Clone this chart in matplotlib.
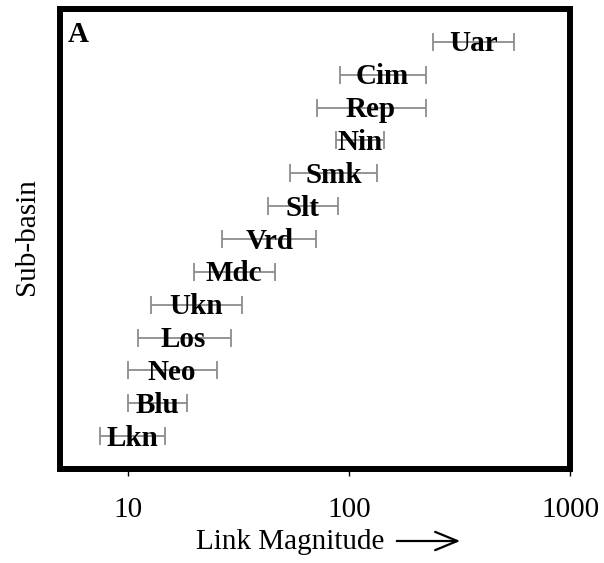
import numpy as np
import matplotlib
matplotlib.use("Agg")
import matplotlib.pyplot as plt

# Sub-basins, bottom to top
subbasins = ['Lkn', 'Blu', 'Neo', 'Los', 'Ukn', 'Mdc', 'Vrd', 'Slt', 'Smk', 'Nin', 'Rep', 'Cim', 'Uar']
link_mid = [10.5, 13.7, 15.9, 17.9, 20.5, 30.3, 44, 62, 86, 113, 126, 142, 368]
link_low = [7.5, 10.0, 10.0, 11.1, 12.8, 19.9, 26.8, 43, 54, 88, 72, 91, 240]
link_high = [14.8, 18.6, 25.3, 29.3, 32.9, 46.4, 71.4, 89.6, 134, 145, 224, 224, 557]
xticks = [10, 100, 1000]
xticklabels = ['10', '100', '1000']

plt.rcParams['font.family'] = ['Liberation Serif', 'DejaVu Serif']

W, H = 604, 563
fig = plt.figure(figsize=(W / 100, H / 100), dpi=100)
ax = fig.add_axes([60 / W, (H - 469) / H, 510 / W, 460 / H])

ypos = np.arange(1, len(subbasins) + 1)
mid = np.array(link_mid)
xerr = np.vstack([mid - np.array(link_low), np.array(link_high) - mid])
ax.errorbar(mid, ypos, xerr=xerr, fmt='none', ecolor='#8c8c8c',
            elinewidth=1.3, capsize=6.5, capthick=1.3, zorder=2)

fs = 21
for name, x, y in zip(subbasins, link_mid, ypos):
    ax.annotate(name, (x, y), xytext=(0, -0.33 * fs), textcoords='offset points',
                ha='center', va='baseline', fontsize=fs, fontweight='bold',
                color='black', zorder=3)

ax.set_xscale('log')
ax.set_xlim(4.95, 1000)
ax.set_ylim(0, 14)
ax.set_xticks(xticks)
ax.set_xticklabels(xticklabels, fontsize=21)
ax.xaxis.set_minor_locator(matplotlib.ticker.NullLocator())
ax.set_yticks([])
ax.tick_params(axis='x', direction='out', length=5, width=1, pad=15)

for sp in ax.spines.values():
    sp.set_linewidth(4.3)
    sp.set_color('black')

ax.text(0.015, 0.975, 'A', transform=ax.transAxes, ha='left', va='top',
        fontsize=21, fontweight='bold')

fig.text(27 / W, (H - 237) / H, 'Sub-basin', rotation=90, ha='center',
         va='center', fontsize=21)
fig.text(290 / W, (H - 542) / H, 'Link Magnitude', ha='center', va='center',
         fontsize=21)
fig.add_artist(matplotlib.patches.FancyArrowPatch(
    (394 / W, (H - 541) / H), (463 / W, (H - 541) / H),
    transform=fig.transFigure, arrowstyle='->,head_length=0.8,head_width=0.33',
    mutation_scale=20, linewidth=1.6, color='black'))

fig.savefig('out.png', dpi=100)
